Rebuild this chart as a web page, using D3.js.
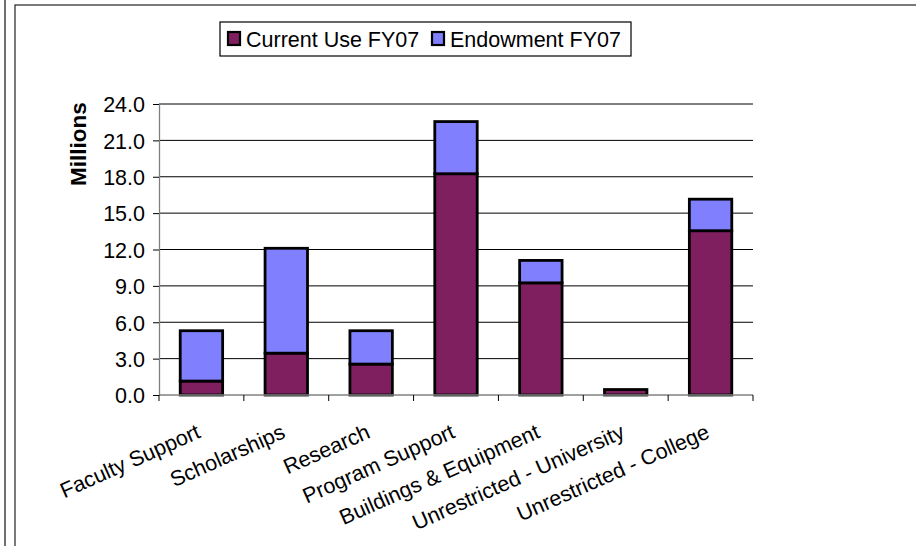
<!DOCTYPE html>
<html>
<head>
<meta charset="utf-8">
<script src="https://cdn.jsdelivr.net/npm/d3@7"></script>
<style>
  body { margin: 0; background: #fff; }
  text { font-family: "Liberation Sans", Arial, sans-serif; }
</style>
</head>
<body>
<div id="graphics"></div>
<script>
var categories = ["Faculty Support", "Scholarships", "Research", "Program Support",
                  "Buildings & Equipment", "Unrestricted - University", "Unrestricted - College"];
var currentUse = [1.15, 3.45, 2.55, 18.25, 9.25, 0.45, 13.55];
var endowment  = [4.15, 8.65, 2.75, 4.3, 1.85, 0, 2.6];
var seriesNames = ["Current Use FY07", "Endowment FY07"];
var yTicks = [0, 3, 6, 9, 12, 15, 18, 21, 24];

var w = 916, h = 546;
var colors = ["#7f1f5f", "#8080ff"];

var svg = d3.select("#graphics")
  .append("svg")
  .attr("width", w)
  .attr("height", h);

// outer frame lines
svg.append("line")
  .attr("x1", 5).attr("x2", 5).attr("y1", 0).attr("y2", h)
  .attr("stroke", "#222").attr("stroke-width", 1.3);
svg.append("rect")
  .attr("x", 15).attr("y", 5).attr("width", w).attr("height", h)
  .attr("fill", "none").attr("stroke", "#333").attr("stroke-width", 1.3);

var x = d3.scaleBand().domain(categories).range([159, 753]).paddingInner(0.5).paddingOuter(0.25);
var xb = d3.scaleBand().domain(categories).range([159, 753]);
var y = d3.scaleLinear().domain([0, 24]).range([395, 104]);

// gridlines
svg.selectAll("line.grid")
  .data(yTicks.slice(1))
  .enter()
  .append("line")
  .attr("class", "grid")
  .attr("x1", 159).attr("x2", 753)
  .attr("y1", function(d) { return y(d); })
  .attr("y2", function(d) { return y(d); })
  .attr("stroke", "#000").attr("stroke-width", 1);

// y axis
var yAxis = svg.append("g")
  .attr("transform", "translate(159,0)")
  .call(d3.axisLeft(y).tickValues(yTicks).tickSize(6).tickSizeOuter(0)
        .tickFormat(d3.format(".1f")));
yAxis.select(".domain").attr("stroke", "#808080").attr("stroke-width", 1.3);
yAxis.selectAll(".tick line").attr("stroke", "#000");
yAxis.selectAll(".tick text")
  .attr("font-size", "21.5px")
  .attr("font-family", "Liberation Sans, Arial, sans-serif")
  .attr("fill", "#000")
  .attr("x", -14)
  .attr("dy", "0.36em");

// stacked bars
var stackData = categories.map(function(c, i) {
  return { cat: c, cur: currentUse[i], end: endowment[i] };
});
var stack = d3.stack().keys(["cur", "end"])(stackData);

svg.selectAll("g.series")
  .data(stack)
  .enter()
  .append("g")
  .attr("class", "series")
  .attr("fill", function(d, i) { return colors[i]; })
  .selectAll("rect")
  .data(function(d) { return d.filter(function(p) { return p[1] - p[0] > 0; }); })
  .enter()
  .append("rect")
  .attr("x", function(d) { return x(d.data.cat); })
  .attr("y", function(d) { return y(d[1]); })
  .attr("width", x.bandwidth())
  .attr("height", function(d) { return y(d[0]) - y(d[1]); })
  .attr("stroke", "#000")
  .attr("stroke-width", 2.8);

// x axis
var xAxis = svg.append("g")
  .attr("transform", "translate(0,395)");
xAxis.append("line")
  .attr("x1", 159).attr("x2", 753).attr("y1", 0).attr("y2", 0)
  .attr("stroke", "#808080").attr("stroke-width", 1.3);
xAxis.selectAll("line.tk")
  .data(categories.concat(["end"]))
  .enter()
  .append("line")
  .attr("class", "tk")
  .attr("x1", function(d, i) { return 159 + i * xb.bandwidth(); })
  .attr("x2", function(d, i) { return 159 + i * xb.bandwidth(); })
  .attr("y1", 0).attr("y2", 6)
  .attr("stroke", "#000");

svg.selectAll("text.xlab")
  .data(categories)
  .enter()
  .append("text")
  .attr("class", "xlab")
  .text(function(d) { return d; })
  .attr("text-anchor", "end")
  .attr("font-size", "21.5px")
  .attr("dy", "0.72em")
  .attr("transform", function(d) {
    return "translate(" + (xb(d) + xb.bandwidth() / 2 - 6) + ",423) rotate(-24)";
  });

// y title
svg.append("text")
  .text("Millions")
  .attr("text-anchor", "middle")
  .attr("font-size", "22.5px")
  .attr("font-weight", "bold")
  .attr("transform", "translate(86,144) rotate(-90)");

// legend
var legend = svg.append("g");
legend.append("rect")
  .attr("x", 220).attr("y", 22).attr("width", 411).attr("height", 34)
  .attr("fill", "#fff").attr("stroke", "#000").attr("stroke-width", 1.2);
var legX = [228, 432];
var li = legend.selectAll("g.li")
  .data(seriesNames)
  .enter()
  .append("g")
  .attr("class", "li");
li.append("rect")
  .attr("x", function(d, i) { return legX[i]; })
  .attr("y", 32)
  .attr("width", 12).attr("height", 13)
  .attr("fill", function(d, i) { return colors[i]; })
  .attr("stroke", "#000").attr("stroke-width", 2.2);
li.append("text")
  .attr("x", function(d, i) { return legX[i] + 18; })
  .attr("y", 46.5)
  .attr("font-size", "21.5px")
  .text(function(d) { return d; });
</script>
</body>
</html>
